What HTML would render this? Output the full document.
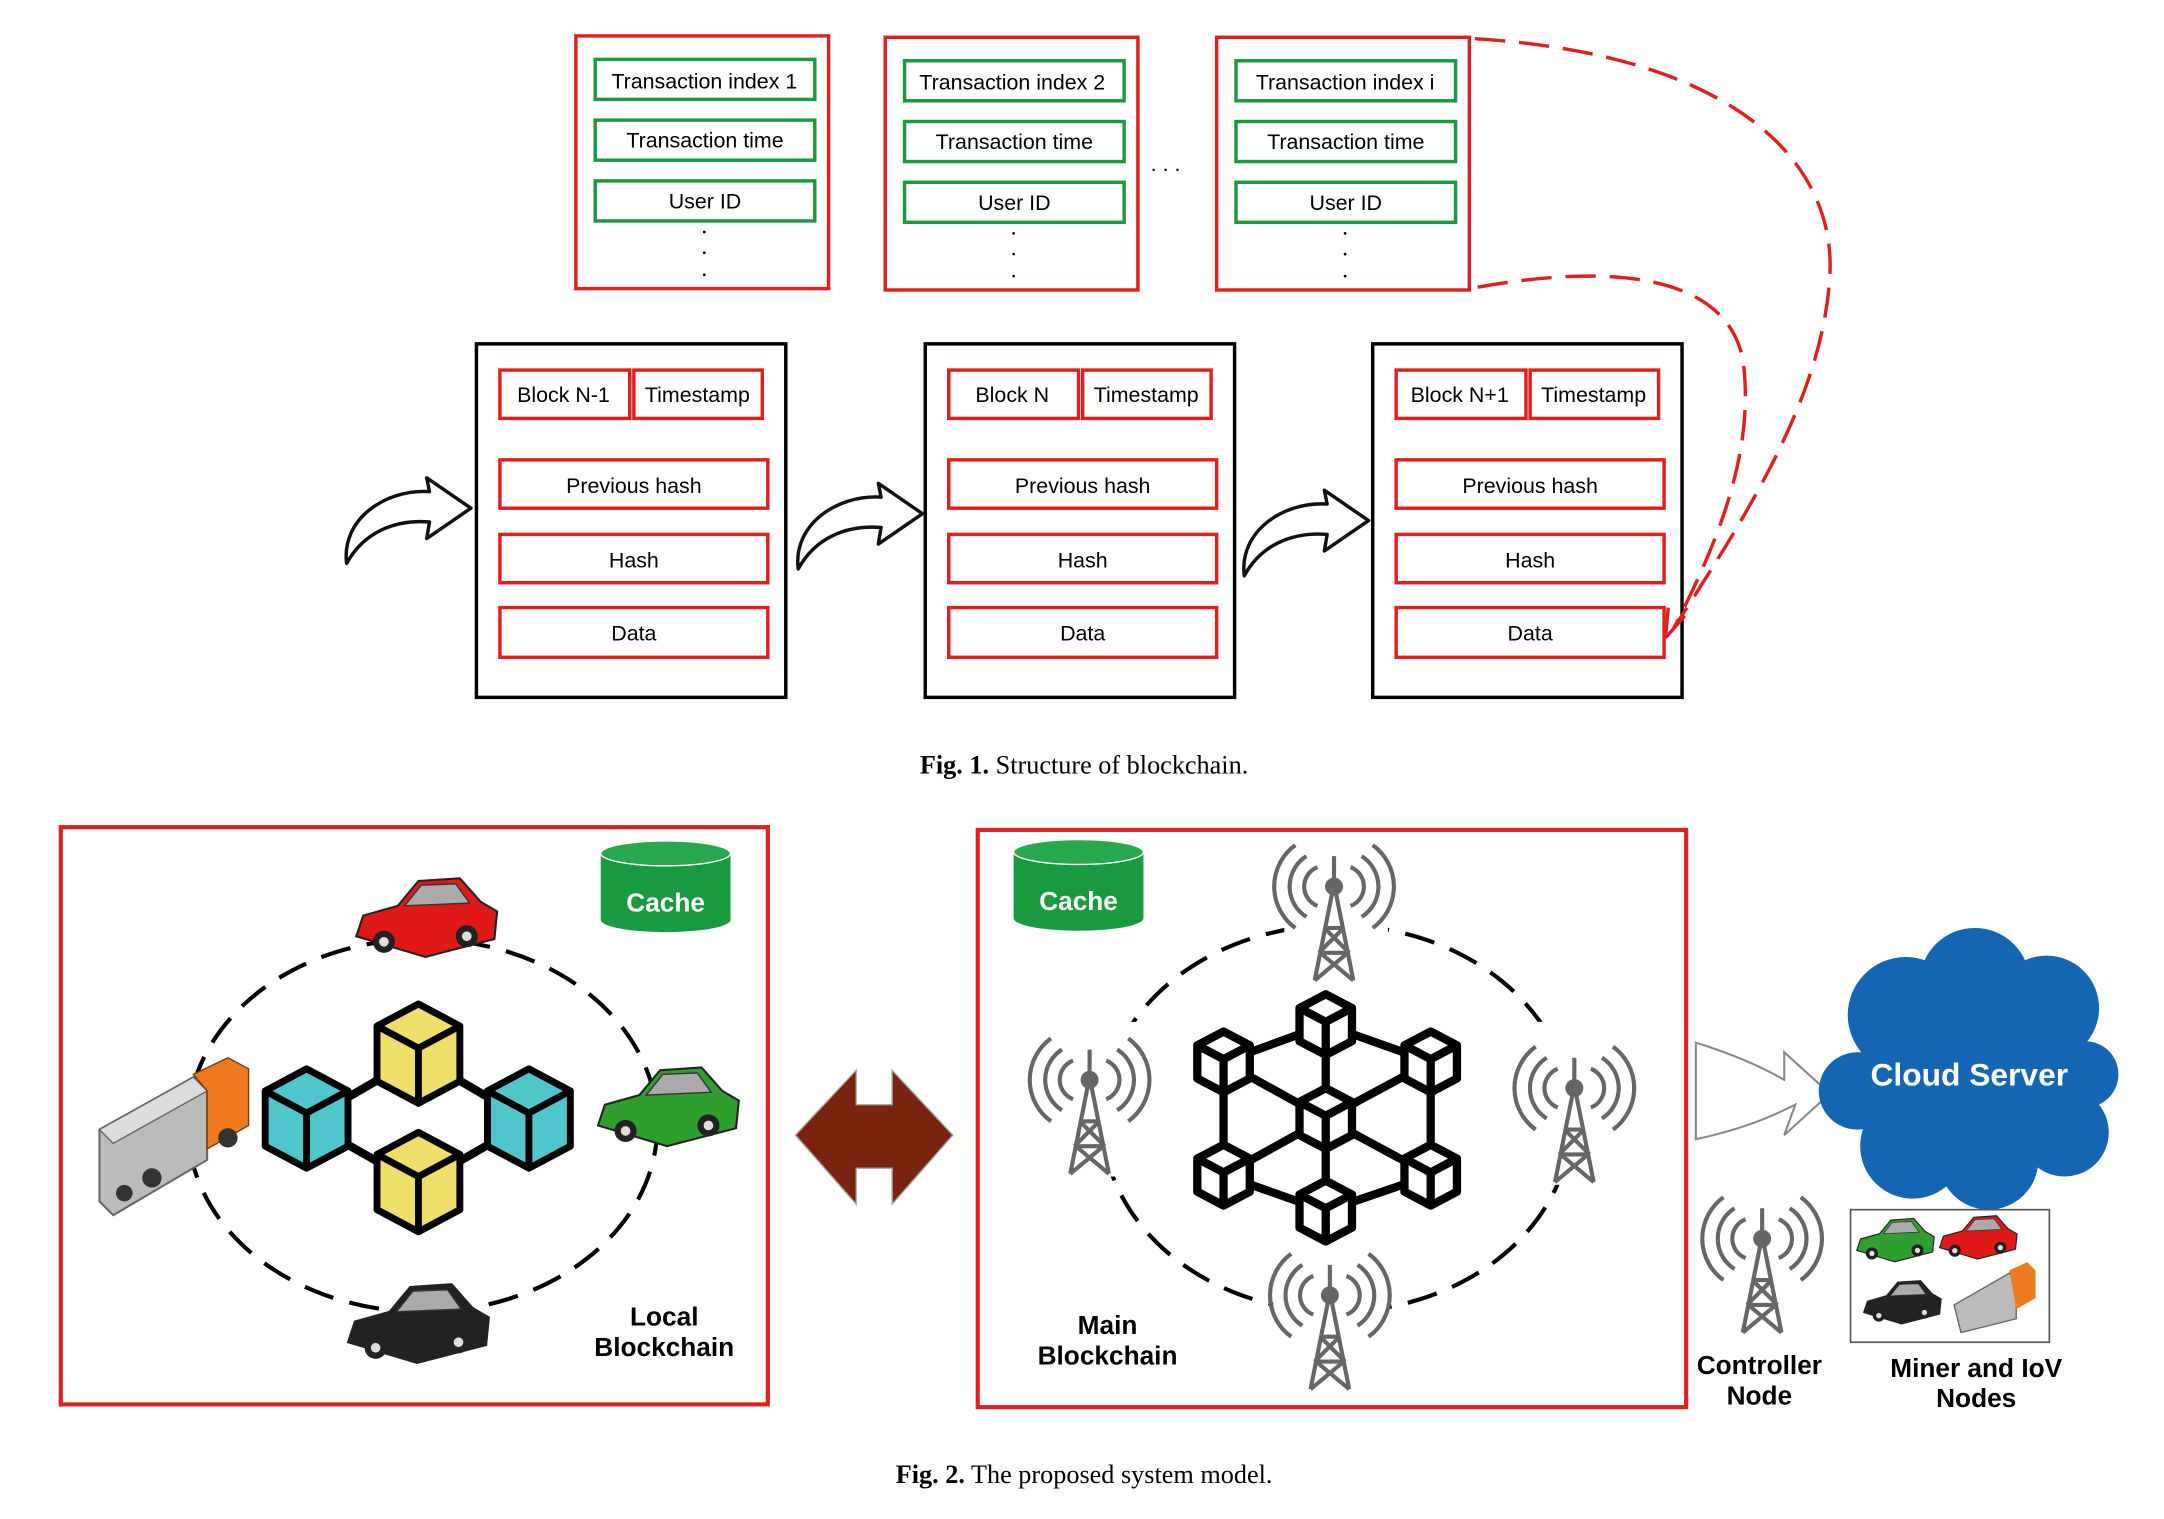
<!DOCTYPE html>
<html><head><meta charset="utf-8"><style>
html,body{margin:0;padding:0;background:#fff}
svg{display:block}
</style></head><body>
<svg width="2164" height="1519" viewBox="0 0 1567 1100" preserveAspectRatio="none" xmlns="http://www.w3.org/2000/svg" font-family="Liberation Sans, sans-serif">
<defs>
<g id="tx">
  <rect x="0" y="0" width="183" height="183" fill="#fff" stroke="#e02020" stroke-width="2.5"/>
  <rect x="14" y="17" width="159" height="29" fill="#fff" stroke="#1a9a40" stroke-width="2.5"/>
  <rect x="14" y="61" width="159" height="29" fill="#fff" stroke="#1a9a40" stroke-width="2.5"/>
  <rect x="14" y="105" width="159" height="29" fill="#fff" stroke="#1a9a40" stroke-width="2.5"/>
  <text x="93.5" y="81" font-size="15.5" text-anchor="middle">Transaction time</text>
  <text x="93.5" y="125" font-size="15.5" text-anchor="middle">User ID</text>
  <circle cx="93" cy="142" r="1" fill="#000"/><circle cx="93" cy="157" r="1" fill="#000"/><circle cx="93" cy="173" r="1" fill="#000"/>
</g>
<g id="blk">
  <rect x="0" y="0" width="224" height="256" fill="#fff" stroke="#000" stroke-width="2.5"/>
  <rect x="17" y="19" width="94" height="35" fill="#fff" stroke="#e02020" stroke-width="2.5"/>
  <rect x="114" y="19" width="93" height="35" fill="#fff" stroke="#e02020" stroke-width="2.5"/>
  <rect x="17" y="84" width="194" height="35" fill="#fff" stroke="#e02020" stroke-width="2.5"/>
  <rect x="17" y="138" width="194" height="35" fill="#fff" stroke="#e02020" stroke-width="2.5"/>
  <rect x="17" y="191" width="194" height="36" fill="#fff" stroke="#e02020" stroke-width="2.5"/>
  <text x="160" y="42" font-size="15.5" text-anchor="middle">Timestamp</text>
  <text x="114" y="108" font-size="15.5" text-anchor="middle">Previous hash</text>
  <text x="114" y="162" font-size="15.5" text-anchor="middle">Hash</text>
  <text x="114" y="215" font-size="15.5" text-anchor="middle">Data</text>
</g>
<g id="carr">
  <path d="M-50,10 L-45,-5 L-20,-12 L-5,-30 L25,-32 L40,-15 L52,-8 L50,12 L0,25 Z" fill="currentColor" stroke="#222" stroke-width="1.5"/>
  <path d="M-15,-12 L-3,-27 L22,-28 L32,-14 Z" fill="#aaa" stroke="#333"/>
  <ellipse cx="-30" cy="14" rx="8" ry="8" fill="#222"/><ellipse cx="30" cy="10" rx="8" ry="8" fill="#222"/>
  <ellipse cx="-30" cy="14" rx="3.5" ry="3.5" fill="#ddd"/><ellipse cx="30" cy="10" rx="3.5" ry="3.5" fill="#ddd"/>
</g>
<g id="cube">
  <path d="M0,-38 L30,-22 L30,18 L0,34 L-30,18 L-30,-22 Z" fill="currentColor" stroke="#000" stroke-width="5" stroke-linejoin="round"/>
  <path d="M-30,-22 L0,-6 L30,-22 M0,-6 L0,34" fill="none" stroke="#000" stroke-width="5"/>
</g>
<g id="scube">
  <path d="M0,-22 L19,-12 L19,12 L0,22 L-19,12 L-19,-12 Z" fill="#fff" stroke="#000" stroke-width="6" stroke-linejoin="round"/>
  <path d="M-19,-12 L0,-2 L19,-12 M0,-2 L0,22" fill="none" stroke="#000" stroke-width="6"/>
</g>
<g id="tower" stroke="#666" fill="none" stroke-width="3">
  <path d="M-14,60 L0,-10 L14,60 M-10,40 L10,40 M-7,22 L7,22 M-11,40 L7,22 M11,40 L-7,22 M-14,60 L10,40 M14,60 L-10,40 M0,-10 L0,-30"/>
  <circle cx="0" cy="-8" r="5" fill="#666"/>
  <path d="M-12,-22 A15,15 0 0 0 -12,6 M12,-22 A15,15 0 0 1 12,6 M-20,-30 A26,26 0 0 0 -20,14 M20,-30 A26,26 0 0 1 20,14 M-28,-38 A37,37 0 0 0 -28,22 M28,-38 A37,37 0 0 1 28,22"/>
</g>
<g id="carrow">
  <path d="M2,62 C-2,30 30,8 62,10 L60,0 L92,22 L60,44 L62,32 C36,30 14,40 2,62 Z" fill="#fff" stroke="#111" stroke-width="2.5" stroke-linejoin="round"/>
</g>
<g id="cache">
  <path d="M0,10 L0,58 A47,9 0 0 0 94,58 L94,10 Z" fill="#1a9a40"/>
  <ellipse cx="47" cy="10" rx="47" ry="9" fill="#28a84c" stroke="#fff" stroke-width="1"/>
  <text x="47" y="52" font-size="19" font-weight="bold" fill="#fff" text-anchor="middle">Cache</text>
</g>
</defs>

<use href="#tx" x="417" y="26"/>
<text x="510" y="64" font-size="15.5" text-anchor="middle">Transaction index 1</text>
<use href="#tx" x="641" y="27"/>
<text x="733" y="65" font-size="15.5" text-anchor="middle">Transaction index 2</text>
<use href="#tx" x="881" y="27"/>
<text x="974" y="65" font-size="15.5" text-anchor="middle">Transaction index i</text>
<text x="844" y="124" font-size="15.5" text-anchor="middle">. . .</text>

<use href="#blk" x="345" y="249"/>
<text x="408" y="291" font-size="15.5" text-anchor="middle">Block N-1</text>
<use href="#blk" x="670" y="249"/>
<text x="733" y="291" font-size="15.5" text-anchor="middle">Block N</text>
<use href="#blk" x="994" y="249"/>
<text x="1057" y="291" font-size="15.5" text-anchor="middle">Block N+1</text>

<use href="#carrow" x="249" y="346"/>
<use href="#carrow" x="576" y="350"/>
<use href="#carrow" x="899" y="355"/>

<path d="M1068,28 C1260,40 1330,120 1325,200 C1320,290 1260,380 1212,455" fill="none" stroke="#e02020" stroke-width="2.5" stroke-dasharray="22,10"/>
<path d="M1070,208 C1170,190 1250,200 1262,260 C1272,330 1240,400 1212,455" fill="none" stroke="#e02020" stroke-width="2.5" stroke-dasharray="22,10"/>
<path d="M1206,462 L1208,440 M1206,462 L1220,446" stroke="#e02020" stroke-width="2.5" fill="none"/>

<text x="785" y="560" font-size="19" text-anchor="middle" font-family="Liberation Serif, serif"><tspan font-weight="bold">Fig. 1.</tspan> Structure of blockchain.</text>

<rect x="44" y="599" width="512" height="418" fill="#fff" stroke="#e02020" stroke-width="3"/>
<use href="#cache" x="435" y="608"/>
<ellipse cx="306" cy="815" rx="170" ry="135" fill="none" stroke="#000" stroke-width="3" stroke-dasharray="22,12"/>
<path d="M222,812 L303,765 L383,812 L303,858 Z" fill="none" stroke="#000" stroke-width="6"/>
<use href="#cube" x="303" y="765" color="#f0de6a"/>
<use href="#cube" x="222" y="812" color="#4ec6cc"/>
<use href="#cube" x="383" y="812" color="#4ec6cc"/>
<use href="#cube" x="303" y="858" color="#f0de6a"/>
<use href="#carr" x="308" y="668" color="#e01818"/>
<use href="#carr" x="483" y="805" color="#2fa02f"/>
<use href="#carr" x="302" y="962" color="#222"/>
<g>
<path d="M72,818 L140,780 L150,790 L150,840 L82,880 L72,870 Z" fill="#bbb" stroke="#666" stroke-width="1.5"/>
<path d="M72,818 L140,780 L150,790 L82,828 Z" fill="#ddd" stroke="#666"/>
<path d="M140,778 L165,766 L180,774 L180,815 L150,832 L150,790 Z" fill="#f07a20" stroke="#7a3a10"/>
<circle cx="110" cy="853" r="7" fill="#333"/><circle cx="165" cy="824" r="7" fill="#333"/><circle cx="90" cy="864" r="6" fill="#333"/>
</g>
<text x="481" y="960" font-size="19" font-weight="bold" text-anchor="middle">Local</text>
<text x="481" y="982" font-size="19" font-weight="bold" text-anchor="middle">Blockchain</text>

<path d="M576,822 L620,775 L620,800 L646,800 L646,775 L690,822 L646,872 L646,846 L620,846 L620,872 Z" fill="#7a2410" stroke="#a8a8a8" stroke-width="1"/>

<rect x="708" y="601" width="513" height="418" fill="#fff" stroke="#e02020" stroke-width="3"/>
<use href="#cache" x="734" y="607"/>
<ellipse cx="968" cy="810" rx="170" ry="140" fill="none" stroke="#000" stroke-width="3" stroke-dasharray="22,12"/>
<g stroke="#000" stroke-width="6" fill="none">
<path d="M886,769 L960,742 L1036,769 L1036,851 L960,877 L886,851 Z M960,742 L960,810 L960,877 M886,769 L960,810 L1036,851 M1036,769 L960,810 L886,851"/>
</g>
<use href="#scube" x="960" y="742"/><use href="#scube" x="886" y="769"/><use href="#scube" x="1036" y="769"/>
<use href="#scube" x="960" y="810"/><use href="#scube" x="886" y="851"/><use href="#scube" x="1036" y="851"/><use href="#scube" x="960" y="877"/>
<rect x="930" y="612" width="75" height="100" fill="#fff"/><use href="#tower" x="966" y="650"/>
<rect x="750" y="740" width="80" height="112" fill="#fff"/><use href="#tower" x="789" y="790"/>
<rect x="1098" y="740" width="88" height="118" fill="#fff"/><use href="#tower" x="1140" y="796"/>
<rect x="922" y="905" width="82" height="105" fill="#fff"/><use href="#tower" x="963" y="946"/>
<text x="802" y="966" font-size="19" font-weight="bold" text-anchor="middle">Main</text>
<text x="802" y="988" font-size="19" font-weight="bold" text-anchor="middle">Blockchain</text>

<path d="M1228,755 C1260,765 1280,775 1292,782 L1292,762 L1325,792 L1292,822 L1300,800 C1280,810 1260,818 1228,825 Z" fill="#fff" stroke="#888" stroke-width="1.5"/>

<g fill="#1565b5">
<circle cx="1380" cy="735" r="42"/><circle cx="1430" cy="712" r="40"/><circle cx="1482" cy="730" r="38"/>
<circle cx="1510" cy="778" r="24"/><circle cx="1495" cy="820" r="32"/><circle cx="1440" cy="840" r="36"/>
<circle cx="1385" cy="830" r="38"/><circle cx="1345" cy="790" r="28"/>
<rect x="1350" y="730" width="160" height="100"/>
</g>
<text x="1426" y="786" font-size="23" font-weight="bold" fill="#fff" text-anchor="middle">Cloud Server</text>

<use href="#tower" x="1276" y="905"/>
<text x="1274" y="995" font-size="19" font-weight="bold" text-anchor="middle">Controller</text>
<text x="1274" y="1017" font-size="19" font-weight="bold" text-anchor="middle">Node</text>

<rect x="1340" y="876" width="144" height="96" fill="#fff" stroke="#555" stroke-width="1.2"/>
<g transform="translate(1372,900) scale(0.55)"><use href="#carr" color="#2fa02f"/></g>
<g transform="translate(1432,898) scale(0.55)"><use href="#carr" color="#e01818"/></g>
<g transform="translate(1377,945) scale(0.55)"><use href="#carr" color="#222"/></g>
<path d="M1415,945 L1455,922 L1460,928 L1460,955 L1420,965 Z" fill="#bbb" stroke="#666"/>
<path d="M1455,920 L1468,914 L1474,920 L1474,940 L1460,948 Z" fill="#f07a20"/>
<text x="1431" y="997" font-size="19" font-weight="bold" text-anchor="middle">Miner and IoV</text>
<text x="1431" y="1019" font-size="19" font-weight="bold" text-anchor="middle">Nodes</text>

<text x="785" y="1074" font-size="19" text-anchor="middle" font-family="Liberation Serif, serif"><tspan font-weight="bold">Fig. 2.</tspan> The proposed system model.</text>
</svg>
</body></html>
